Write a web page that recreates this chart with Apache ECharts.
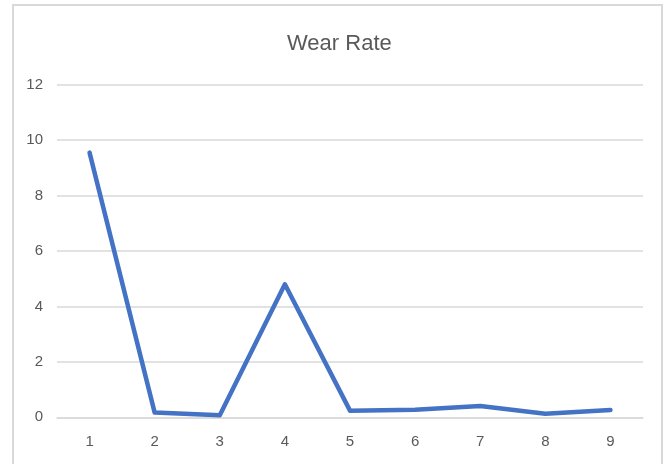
<!DOCTYPE html>
<html>
<head>
<meta charset="utf-8">
<script src="https://cdn.jsdelivr.net/npm/echarts@6/dist/echarts.min.js"></script>
<style>html,body{margin:0;padding:0;background:#fff;}#c{width:666px;height:464px;}</style>
</head>
<body>
<div id="c"></div>
<script>
const categories = ['1','2','3','4','5','6','7','8','9'];
const wearRate = [9.55, 0.17, 0.07, 4.8, 0.24, 0.27, 0.41, 0.13, 0.26];
const yTicks = {min: 0, max: 12, interval: 2};
const titleText = 'Wear Rate';

const chart = echarts.init(document.getElementById('c'), null, {renderer: 'canvas'});
chart.setOption({
  backgroundColor: '#ffffff',
  animation: false,
  title: {
    text: titleText,
    left: 282, top: 28,
    textStyle: {fontFamily: 'Liberation Sans', fontSize: 22, fontWeight: 'normal', color: '#595959'}
  },
  graphic: [{
    type: 'rect', shape: {x: 13, y: 5, width: 649, height: 480},
    style: {fill: 'none', stroke: '#d9d9d9', lineWidth: 2}, silent: true
  }],
  grid: {left: 57, right: 23, top: 84.7, bottom: 46.7},
  xAxis: {
    type: 'category', data: categories, boundaryGap: true,
    axisLine: {show: true, lineStyle: {color: '#d9d9d9', width: 1.5}},
    axisTick: {show: false},
    axisLabel: {color: '#595959', fontFamily: 'Liberation Sans', fontSize: 15, margin: 17}
  },
  yAxis: {
    type: 'value', min: yTicks.min, max: yTicks.max, interval: yTicks.interval,
    axisLine: {show: false}, axisTick: {show: false},
    splitLine: {lineStyle: {color: '#d9d9d9', width: 1.5}},
    axisLabel: {color: '#595959', fontFamily: 'Liberation Sans', fontSize: 15, margin: 14}
  },
  series: [{
    type: 'line', data: wearRate, symbol: 'none',
    lineStyle: {color: '#4472C4', width: 4.5, cap: 'round', join: 'round'}
  }]
});
</script>
</body>
</html>
